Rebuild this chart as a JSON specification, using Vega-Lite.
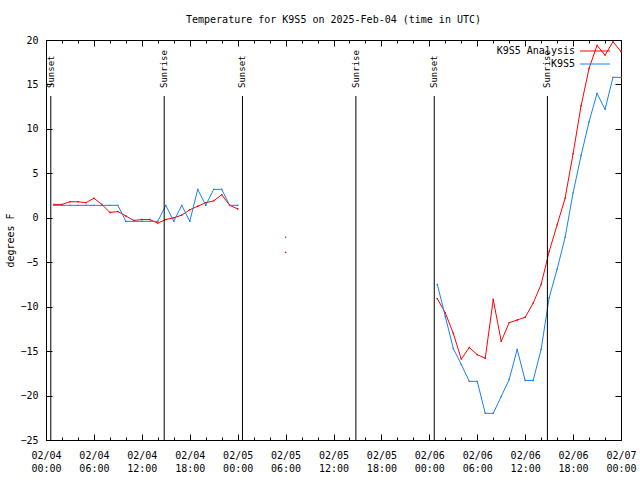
{
  "$schema": "https://vega.github.io/schema/vega-lite/v6.json",
  "width": 575,
  "height": 400,
  "autosize": "none",
  "padding": {"left": 46, "top": 40, "right": 19, "bottom": 40},
  "background": "white",
  "title": {"text": "Temperature for K9S5 on 2025-Feb-04 (time in UTC)", "font": "DejaVu Sans Mono", "fontSize": 10, "fontWeight": "normal", "color": "#000", "anchor": "middle", "baseline": "bottom", "offset": 0},
  "datasets": {
    "temps": [
      {"t": "2025-02-04T01:00:00Z", "K9S5 Analysis": 1.5, "K9S5": 1.4},
      {"t": "2025-02-04T02:00:00Z", "K9S5 Analysis": 1.5, "K9S5": 1.4},
      {"t": "2025-02-04T03:00:00Z", "K9S5 Analysis": 1.8, "K9S5": 1.4},
      {"t": "2025-02-04T04:00:00Z", "K9S5 Analysis": 1.8, "K9S5": 1.4},
      {"t": "2025-02-04T05:00:00Z", "K9S5 Analysis": 1.7, "K9S5": 1.4},
      {"t": "2025-02-04T06:00:00Z", "K9S5 Analysis": 2.2, "K9S5": 1.4},
      {"t": "2025-02-04T07:00:00Z", "K9S5 Analysis": 1.5, "K9S5": 1.4},
      {"t": "2025-02-04T08:00:00Z", "K9S5 Analysis": 0.6, "K9S5": 1.4},
      {"t": "2025-02-04T09:00:00Z", "K9S5 Analysis": 0.7, "K9S5": 1.4},
      {"t": "2025-02-04T10:00:00Z", "K9S5 Analysis": 0.2, "K9S5": -0.4},
      {"t": "2025-02-04T11:00:00Z", "K9S5 Analysis": -0.3, "K9S5": -0.4},
      {"t": "2025-02-04T12:00:00Z", "K9S5 Analysis": -0.2, "K9S5": -0.4},
      {"t": "2025-02-04T13:00:00Z", "K9S5 Analysis": -0.2, "K9S5": -0.4},
      {"t": "2025-02-04T14:00:00Z", "K9S5 Analysis": -0.6, "K9S5": -0.4},
      {"t": "2025-02-04T15:00:00Z", "K9S5 Analysis": -0.2, "K9S5": 1.4},
      {"t": "2025-02-04T16:00:00Z", "K9S5 Analysis": 0.0, "K9S5": -0.4},
      {"t": "2025-02-04T17:00:00Z", "K9S5 Analysis": 0.3, "K9S5": 1.4},
      {"t": "2025-02-04T18:00:00Z", "K9S5 Analysis": 0.9, "K9S5": -0.4},
      {"t": "2025-02-04T19:00:00Z", "K9S5 Analysis": 1.3, "K9S5": 3.2},
      {"t": "2025-02-04T20:00:00Z", "K9S5 Analysis": 1.7, "K9S5": 1.4},
      {"t": "2025-02-04T21:00:00Z", "K9S5 Analysis": 1.9, "K9S5": 3.2},
      {"t": "2025-02-04T22:00:00Z", "K9S5 Analysis": 2.6, "K9S5": 3.2},
      {"t": "2025-02-04T23:00:00Z", "K9S5 Analysis": 1.4, "K9S5": 1.4},
      {"t": "2025-02-05T00:00:00Z", "K9S5 Analysis": 1.0, "K9S5": 1.4},
      {"t": "2025-02-05T01:00:00Z", "K9S5 Analysis": null, "K9S5": null},
      {"t": "2025-02-05T06:00:00Z", "K9S5 Analysis": -3.9, "K9S5": -2.2},
      {"t": "2025-02-05T07:00:00Z", "K9S5 Analysis": null, "K9S5": null},
      {"t": "2025-02-06T01:00:00Z", "K9S5 Analysis": -9.1, "K9S5": -7.5},
      {"t": "2025-02-06T02:00:00Z", "K9S5 Analysis": -10.7, "K9S5": -11.1},
      {"t": "2025-02-06T03:00:00Z", "K9S5 Analysis": -13.0, "K9S5": -14.7},
      {"t": "2025-02-06T04:00:00Z", "K9S5 Analysis": -15.9, "K9S5": -16.5},
      {"t": "2025-02-06T05:00:00Z", "K9S5 Analysis": -14.6, "K9S5": -18.4},
      {"t": "2025-02-06T06:00:00Z", "K9S5 Analysis": -15.4, "K9S5": -18.4},
      {"t": "2025-02-06T07:00:00Z", "K9S5 Analysis": -15.8, "K9S5": -22.0},
      {"t": "2025-02-06T08:00:00Z", "K9S5 Analysis": -9.2, "K9S5": -22.0},
      {"t": "2025-02-06T09:00:00Z", "K9S5 Analysis": -13.9, "K9S5": -20.1},
      {"t": "2025-02-06T10:00:00Z", "K9S5 Analysis": -11.8, "K9S5": -18.2},
      {"t": "2025-02-06T11:00:00Z", "K9S5 Analysis": -11.5, "K9S5": -14.8},
      {"t": "2025-02-06T12:00:00Z", "K9S5 Analysis": -11.2, "K9S5": -18.3},
      {"t": "2025-02-06T13:00:00Z", "K9S5 Analysis": -9.6, "K9S5": -18.3},
      {"t": "2025-02-06T14:00:00Z", "K9S5 Analysis": -7.5, "K9S5": -14.8},
      {"t": "2025-02-06T15:00:00Z", "K9S5 Analysis": -3.8, "K9S5": -9.0},
      {"t": "2025-02-06T16:00:00Z", "K9S5 Analysis": -0.8, "K9S5": -5.8},
      {"t": "2025-02-06T17:00:00Z", "K9S5 Analysis": 2.2, "K9S5": -2.2},
      {"t": "2025-02-06T18:00:00Z", "K9S5 Analysis": 7.2, "K9S5": 2.8},
      {"t": "2025-02-06T19:00:00Z", "K9S5 Analysis": 12.6, "K9S5": 7.0},
      {"t": "2025-02-06T20:00:00Z", "K9S5 Analysis": 16.8, "K9S5": 10.8},
      {"t": "2025-02-06T21:00:00Z", "K9S5 Analysis": 19.4, "K9S5": 14.0},
      {"t": "2025-02-06T22:00:00Z", "K9S5 Analysis": 18.3, "K9S5": 12.2},
      {"t": "2025-02-06T23:00:00Z", "K9S5 Analysis": 19.8, "K9S5": 15.8},
      {"t": "2025-02-07T00:00:00Z", "K9S5 Analysis": 18.7, "K9S5": 15.8}
    ],
    "events": [
      {"t": "2025-02-04T00:36:00Z", "label": "Sunset"},
      {"t": "2025-02-04T14:48:00Z", "label": "Sunrise"},
      {"t": "2025-02-05T00:36:00Z", "label": "Sunset"},
      {"t": "2025-02-05T14:48:00Z", "label": "Sunrise"},
      {"t": "2025-02-06T00:37:00Z", "label": "Sunset"},
      {"t": "2025-02-06T14:47:00Z", "label": "Sunrise"}
    ]
  },
  "layer": [
    {
      "data": {"name": "temps"},
      "transform": [{"fold": ["K9S5 Analysis", "K9S5"], "as": ["series", "temp"]}],
      "mark": {"type": "line", "strokeWidth": 1, "strokeCap": "square"},
      "encoding": {
        "x": {"field": "t", "type": "temporal",
          "scale": {"type": "utc", "domain": [1738627200000, 1738886400000]},
          "axis": {"orient": "bottom", "title": null, "values": [1738627200000, 1738648800000, 1738670400000, 1738692000000, 1738713600000, 1738735200000, 1738756800000, 1738778400000, 1738800000000, 1738821600000, 1738843200000, 1738864800000, 1738886400000], "tickSize": -6, "labelPadding": 16, "labelBaseline": "top", "labelLineHeight": 13,
            "labelExpr": "[utcFormat(datum.value, '%m/%d'), utcFormat(datum.value, '%H:%M')]"}},
        "y": {"field": "temp", "type": "quantitative",
          "scale": {"domain": [-25, 20], "nice": false, "zero": false},
          "axis": {"orient": "left", "title": "degrees F", "values": [-25, -20, -15, -10, -5, 0, 5, 10, 15, 20], "tickSize": -6, "labelPadding": 14, "titlePadding": 4}},
        "color": {"field": "series", "type": "nominal",
          "scale": {"domain": ["K9S5 Analysis", "K9S5"], "range": ["#ff0000", "#1582f0"]},
          "legend": {"title": null, "orient": "none", "legendX": 543.5, "legendY": 5.5, "symbolType": "M-3,0H3", "symbolSize": 100, "symbolStrokeWidth": 1, "labelAlign": "right", "labelOffset": -25.5, "labelFont": "DejaVu Sans Mono", "labelFontSize": 10, "labelColor": "#000", "rowPadding": 2, "padding": 0, "labelLimit": 0}}
      }
    },
    {
      "data": {"name": "temps"},
      "transform": [{"fold": ["K9S5 Analysis", "K9S5"], "as": ["series", "temp"]}],
      "mark": {"type": "square", "size": 2, "opacity": 1, "filled": true},
      "encoding": {
        "x": {"field": "t", "type": "temporal",
          "scale": {"type": "utc", "domain": [1738627200000, 1738886400000]},
          "axis": {"orient": "top", "title": null, "values": [1738627200000, 1738648800000, 1738670400000, 1738692000000, 1738713600000, 1738735200000, 1738756800000, 1738778400000, 1738800000000, 1738821600000, 1738843200000, 1738864800000, 1738886400000], "tickSize": -6, "labels": false}},
        "y": {"field": "temp", "type": "quantitative",
          "scale": {"domain": [-25, 20], "nice": false, "zero": false},
          "axis": {"orient": "right", "title": null, "values": [-25, -20, -15, -10, -5, 0, 5, 10, 15, 20], "tickSize": -6, "labels": false}},
        "color": {"field": "series", "type": "nominal",
          "scale": {"domain": ["K9S5 Analysis", "K9S5"], "range": ["#ff0000", "#1582f0"]},
          "legend": null}
      }
    },
    {
      "data": {"name": "events"},
      "mark": {"type": "rule", "color": "#000", "strokeWidth": 1},
      "encoding": {
        "x": {"field": "t", "type": "temporal",
          "scale": {"type": "utc", "domain": [1738627200000, 1738886400000]},
          "axis": {"orient": "bottom", "title": null, "values": [1738627200000, 1738634400000, 1738641600000, 1738648800000, 1738656000000, 1738663200000, 1738670400000, 1738677600000, 1738684800000, 1738692000000, 1738699200000, 1738706400000, 1738713600000, 1738720800000, 1738728000000, 1738735200000, 1738742400000, 1738749600000, 1738756800000, 1738764000000, 1738771200000, 1738778400000, 1738785600000, 1738792800000, 1738800000000, 1738807200000, 1738814400000, 1738821600000, 1738828800000, 1738836000000, 1738843200000, 1738850400000, 1738857600000, 1738864800000, 1738872000000, 1738879200000, 1738886400000], "tickSize": -3, "labels": false}},
        "y": {"datum": 13.7, "type": "quantitative", "scale": {"domain": [-25, 20], "nice": false, "zero": false}, "axis": null},
        "y2": {"datum": -25}
      }
    },
    {
      "data": {"name": "events"},
      "mark": {"type": "text", "angle": 270, "align": "left", "baseline": "middle", "font": "DejaVu Sans Mono", "fontSize": 9, "color": "#000"},
      "encoding": {
        "x": {"field": "t", "type": "temporal",
          "scale": {"type": "utc", "domain": [1738627200000, 1738886400000]},
          "axis": {"orient": "top", "title": null, "values": [1738627200000, 1738634400000, 1738641600000, 1738648800000, 1738656000000, 1738663200000, 1738670400000, 1738677600000, 1738684800000, 1738692000000, 1738699200000, 1738706400000, 1738713600000, 1738720800000, 1738728000000, 1738735200000, 1738742400000, 1738749600000, 1738756800000, 1738764000000, 1738771200000, 1738778400000, 1738785600000, 1738792800000, 1738800000000, 1738807200000, 1738814400000, 1738821600000, 1738828800000, 1738836000000, 1738843200000, 1738850400000, 1738857600000, 1738864800000, 1738872000000, 1738879200000, 1738886400000], "tickSize": -3, "labels": false}},
        "y": {"datum": 14.6, "type": "quantitative", "scale": {"domain": [-25, 20], "nice": false, "zero": false}, "axis": null},
        "text": {"field": "label"}
      }
    }
  ],
  "resolve": {"axis": {"x": "independent", "y": "independent"}},
  "config": {
    "font": "DejaVu Sans Mono",
    "view": {"stroke": "#000", "strokeWidth": 1},
    "axis": {"labelFont": "DejaVu Sans Mono", "labelFontSize": 10, "labelColor": "#000", "tickColor": "#000", "tickWidth": 1, "domain": false, "grid": false,
      "titleFont": "DejaVu Sans Mono", "titleFontSize": 10, "titleFontWeight": "normal", "titleColor": "#000", "labelFlush": false, "labelOverlap": false, "labelBound": false}
  }
}
